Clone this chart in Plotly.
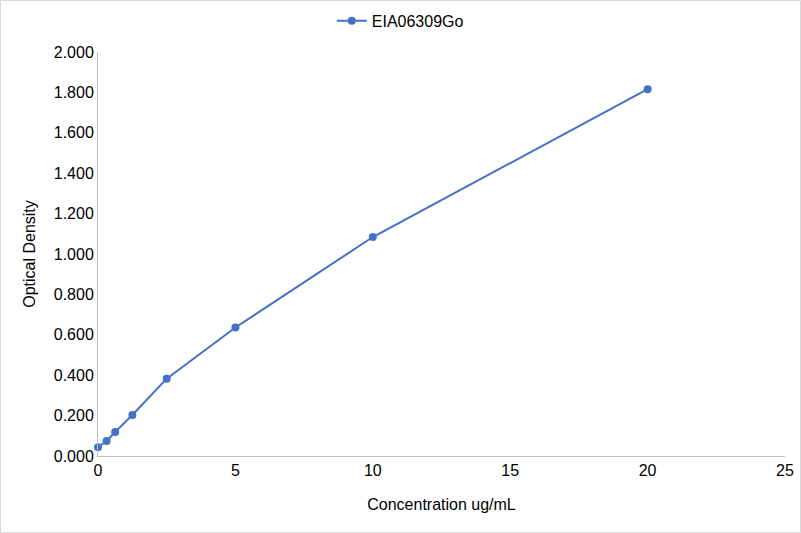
import plotly.graph_objects as go

# standard curve
concentration = [0, 0.3125, 0.625, 1.25, 2.5, 5, 10, 20]
optical_density = [0.043, 0.074, 0.119, 0.203, 0.383, 0.636, 1.084, 1.816]
series_name = 'EIA06309Go'

y_ticks = [0, 0.2, 0.4, 0.6, 0.8, 1.0, 1.2, 1.4, 1.6, 1.8, 2.0]
x_ticks = [0, 5, 10, 15, 20, 25]

blue = '#4472C4'

fig = go.Figure()
fig.add_trace(go.Scatter(x=concentration, y=optical_density, mode='lines+markers',
                         name=series_name, cliponaxis=False,
                         line=dict(color=blue, width=2),
                         marker=dict(color=blue, size=8)))

fig.update_layout(
    width=801, height=533,
    paper_bgcolor='white', plot_bgcolor='white',
    font=dict(family='Liberation Sans, Arial, sans-serif', size=16, color='#000000'),
    margin=dict(l=98, r=16, t=52, b=77, autoexpand=False),
    showlegend=True,
    legend=dict(orientation='h', x=0.44, xanchor='center', y=1.077, yanchor='middle',
                font=dict(size=16), bgcolor='rgba(0,0,0,0)'),
    xaxis=dict(range=[0, 25], tickvals=x_ticks, showgrid=False, zeroline=False,
               showline=True, linecolor='#BFBFBF', linewidth=1, ticks='', automargin=False,
               title=dict(text='Concentration ug/mL', font=dict(size=16), standoff=20)),
    yaxis=dict(range=[0, 2.0], tickvals=y_ticks, tickformat='.3f', showgrid=False,
               zeroline=False, showline=True, linecolor='#BFBFBF', linewidth=1, ticks='',
               automargin=False,
               title=dict(text='Optical Density', font=dict(size=16), standoff=14)),
    shapes=[dict(type='rect', xref='paper', yref='paper', x0=-0.1419, x1=1.0226,
                 y0=-0.1894, y1=1.1275, line=dict(color='#D9D9D9', width=1))],
)

# page body has a default 8px margin; drop it so the figure sits at the window corner
fig.write_html('out.html', config={'displayModeBar': False},
               post_script="document.body.style.margin='0';")
